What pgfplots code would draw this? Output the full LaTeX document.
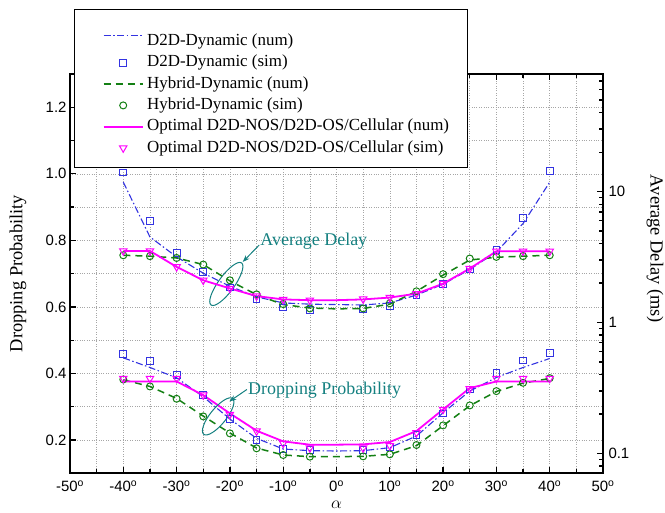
\documentclass[border=0pt]{standalone}
\usepackage{pgfplots}
\pgfplotsset{compat=1.18}
\usepackage{fontspec}
\setmainfont{Liberation Serif}
\setsansfont{Liberation Sans}
\usetikzlibrary{arrows.meta}
\definecolor{dblue}{RGB}{51,51,225}
\definecolor{dgreen}{RGB}{20,128,20}
\definecolor{mag}{RGB}{255,0,255}
\definecolor{annot}{RGB}{20,128,128}
\pgfplotsset{
  base/.style={at={(0,0)}, anchor=south west, scale only axis, width=533bp, height=399.3bp,
    xmin=-50, xmax=50, tick align=inside, major tick length=6.5bp, minor tick length=4bp,
    tick style={line width=1.3bp, black}, axis line style={line width=1.8bp},
    /pgf/number format/assume math mode=true,
    tick label style={font=\sffamily\fontsize{15}{15}\selectfont},
    label style={font=\fontsize{18.5}{18.5}\selectfont}},
  d2dnum/.style={dblue, line width=1.1bp, dash pattern=on 7bp off 2.5bp on 1.5bp off 2.5bp},
  d2dsim/.style={dblue, only marks, mark=square, mark size=3.4bp, mark options={solid, line width=1bp}},
  hybnum/.style={dgreen, line width=1.5bp, dash pattern=on 7bp off 5bp},
  hybsim/.style={dgreen, only marks, mark=o, mark size=3.5bp, mark options={solid, line width=1bp}},
  optnum/.style={mag, line width=1.8bp},
  optsim/.style={mag, only marks, mark=triangle, mark size=4.3bp, mark options={solid, line width=1bp, rotate=180}},
}
\begin{document}
\begin{tikzpicture}
\begin{axis}[base,
  ymin=0.1, ymax=1.3,
  xtick={-50,-40,-30,-20,-10,0,10,20,30,40,50},
  xticklabels={-50\textsuperscript{o},-40\textsuperscript{o},-30\textsuperscript{o},-20\textsuperscript{o},-10\textsuperscript{o},0\textsuperscript{o},10\textsuperscript{o},20\textsuperscript{o},30\textsuperscript{o},40\textsuperscript{o},50\textsuperscript{o}},
  xticklabel style={yshift=-4bp},
  minor x tick num=1,
  ytick={0.2,0.4,0.6,0.8,1.0,1.2},
  minor y tick num=1,
  ytick pos=left, xtick pos=both, xticklabel pos=bottom,
  yticklabel style={/pgf/number format/.cd, fixed, fixed zerofill, precision=1},
  grid=both,
  major grid style={dotted, gray!70, line width=0.6bp},
  minor grid style={dotted, gray!70, line width=0.6bp},
  xlabel={$\alpha$},
  xlabel style={at={(axis description cs:0.5,-0.0785)}, anchor=center},
  ylabel={Dropping Probability},
  ylabel style={at={(axis description cs:-0.0976,0.5)}, anchor=center},
  legend image code/.code={\path (-10.6bp,0bp); \draw[mark repeat=2,mark phase=2,#1] plot coordinates {(0bp,0bp) (19.5bp,0bp) (39bp,0bp)};},
  legend cell align=left,
  legend style={at={(axis description cs:0.0075,1.162)}, anchor=north west,
    draw=black, line width=1bp, fill=white, inner xsep=17.7bp, inner ysep=10bp,
    row sep=3.3bp, column sep=2.5bp,
    font=\fontsize{17}{17}\selectfont,
    nodes={inner sep=1bp, text height=12bp, text depth=4bp}},
]
\addplot[d2dnum] coordinates {(-40,0.447) (-35,0.418) (-30,0.387) (-25,0.330) (-20,0.263) (-15,0.205) (-10,0.173) (-5,0.168) (0,0.167) (5,0.168) (10,0.177) (15,0.212) (20,0.282) (25,0.347) (30,0.388) (35,0.418) (40,0.445)};
\addlegendentry[text height=24.7bp]{D2D-Dynamic (num)}
\addplot[d2dsim] coordinates {(-40,0.459) (-35,0.437) (-30,0.395) (-25,0.336) (-20,0.264) (-15,0.200) (-10,0.172) (-5,0.169) (5,0.169) (10,0.178) (15,0.216) (20,0.280) (25,0.352) (30,0.402) (35,0.439) (40,0.461)};
\addlegendentry{D2D-Dynamic (sim)}
\addplot[hybnum] coordinates {(-40,0.381) (-35,0.361) (-30,0.325) (-25,0.272) (-20,0.221) (-15,0.176) (-10,0.155) (-5,0.150) (0,0.150) (5,0.151) (10,0.157) (15,0.183) (20,0.243) (25,0.303) (30,0.346) (35,0.371) (40,0.385)};
\addlegendentry{Hybrid-Dynamic (num)}
\addplot[hybsim] coordinates {(-40,0.382) (-35,0.361) (-30,0.324) (-25,0.271) (-20,0.220) (-15,0.175) (-10,0.155) (-5,0.150) (5,0.151) (10,0.157) (15,0.185) (20,0.244) (25,0.304) (30,0.347) (35,0.372) (40,0.386)};
\addlegendentry{Hybrid-Dynamic (sim)}
\addplot[optnum] coordinates {(-40,0.376) (-35,0.376) (-30,0.376) (-25,0.335) (-20,0.280) (-15,0.228) (-10,0.196) (-5,0.186) (0,0.186) (5,0.187) (10,0.194) (15,0.227) (20,0.292) (25,0.356) (30,0.376) (35,0.376) (40,0.376)};
\addlegendentry{Optimal D2D-NOS/D2D-OS/Cellular (num)}
\addplot[optsim] coordinates {(-40,0.385) (-35,0.385) (-30,0.385) (-25,0.335) (-20,0.277) (-15,0.227) (-10,0.190) (-5,0.176) (5,0.176) (10,0.183) (15,0.222) (20,0.292) (25,0.354) (30,0.385) (35,0.385) (40,0.385)};
\addlegendentry{Optimal D2D-NOS/D2D-OS/Cellular (sim)}
% annotations
\node[annot, anchor=west, inner sep=0pt, font=\fontsize{18}{18}\selectfont] at (axis cs:-14.3,0.796) {Average Delay};
\draw[annot, line width=1bp] (axis cs:-20.67,0.669) circle[x radius=8bp, y radius=26bp, rotate=-36];
\draw[annot, line width=1bp, -{Stealth[length=7bp,width=5bp]}] (axis cs:-14.5,0.786) -- (axis cs:-17.6,0.735);
\node[annot, anchor=west, inner sep=0pt, font=\fontsize{18}{18}\selectfont] at (axis cs:-16.6,0.35) {Dropping Probability};
\draw[annot, line width=1bp] (axis cs:-22.2,0.271) circle[x radius=8bp, y radius=23bp, rotate=-39];
\draw[annot, line width=1bp, -{Stealth[length=7bp,width=5bp]}] (axis cs:-16.8,0.352) -- (axis cs:-20.1,0.316);
\end{axis}
\begin{axis}[base,
  ymode=log, ymin=0.0704, ymax=79.15,
  hide x axis, axis y line*=right,
  ytick={0.1,1,10}, yticklabels={0.1,1,10},
  yticklabel style={xshift=2bp},
  minor ytick={0.08,0.09,0.2,0.3,0.4,0.5,0.6,0.7,0.8,0.9,2,3,4,5,6,7,8,9,20,30,40,50,60,70},
  ylabel={Average Delay (ms)},
  ylabel style={at={(axis description cs:1.0976,0.562)}, anchor=center, rotate=180},
]
\addplot[d2dnum] coordinates {(-40,11.8) (-35,4.5) (-30,3.17) (-25,2.38) (-20,1.89) (-15,1.57) (-10,1.41) (-5,1.38) (0,1.37) (5,1.36) (10,1.41) (15,1.62) (20,1.96) (25,2.54) (30,3.46) (35,5.7) (40,11.8)};
\addplot[d2dsim] coordinates {(-40,14.0) (-35,5.97) (-30,3.40) (-25,2.43) (-20,1.85) (-15,1.50) (-10,1.30) (-5,1.24) (5,1.27) (10,1.33) (15,1.62) (20,1.96) (25,2.54) (30,3.56) (35,6.29) (40,14.4)};
\addplot[hybnum] coordinates {(-40,3.26) (-35,3.21) (-30,3.11) (-25,2.77) (-20,2.08) (-15,1.63) (-10,1.37) (-5,1.29) (0,1.27) (5,1.28) (10,1.38) (15,1.73) (20,2.30) (25,3.00) (30,3.15) (35,3.21) (40,3.26)};
\addplot[hybsim] coordinates {(-40,3.26) (-35,3.21) (-30,3.11) (-25,2.77) (-20,2.10) (-15,1.64) (-10,1.38) (-5,1.28) (5,1.28) (10,1.40) (15,1.73) (20,2.34) (25,3.08) (30,3.17) (35,3.21) (40,3.26)};
\addplot[optnum] coordinates {(-40,3.52) (-35,3.52) (-30,2.66) (-25,2.10) (-20,1.82) (-15,1.59) (-10,1.50) (-5,1.48) (0,1.48) (5,1.50) (10,1.55) (15,1.66) (20,1.98) (25,2.58) (30,3.50) (35,3.50) (40,3.50)};
\addplot[optsim] coordinates {(-40,3.52) (-35,3.52) (-30,2.66) (-25,2.10) (-20,1.82) (-15,1.59) (-10,1.50) (-5,1.48) (5,1.51) (10,1.55) (15,1.66) (20,1.98) (25,2.58) (30,3.50) (35,3.50) (40,3.50)};
\end{axis}
\pgfresetboundingbox
\path[use as bounding box] (-70bp,-39.7bp) rectangle (595bp,473.3bp);
\end{tikzpicture}
\end{document}
